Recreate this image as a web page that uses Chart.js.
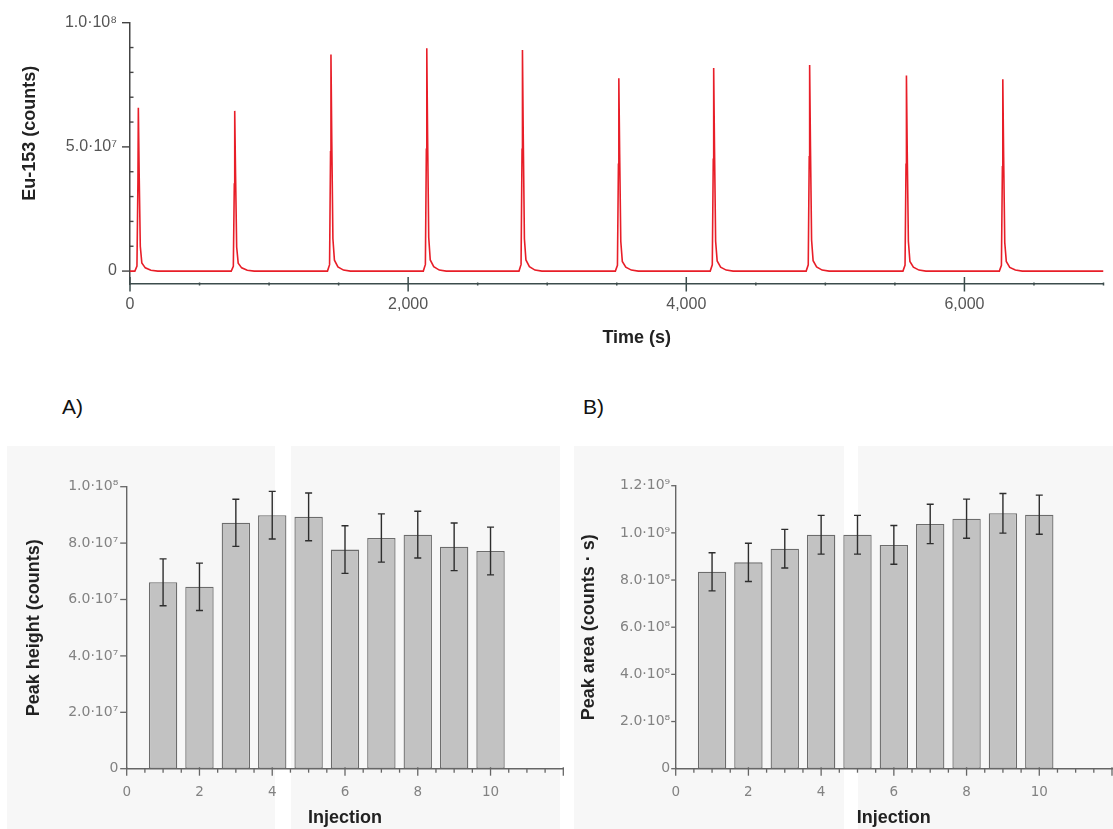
<!DOCTYPE html>
<html>
<head>
<meta charset="utf-8">
<script src="https://cdn.jsdelivr.net/npm/chart.js@4.4.1/dist/chart.umd.min.js"></script>
<style>
  html, body { margin: 0; padding: 0; background: #ffffff; }
  body { width: 1113px; height: 829px; position: relative; overflow: hidden; font-family: "Liberation Sans", Arial, sans-serif; }
  .bg { position: absolute; background: #f7f7f7; }
  .cv { position: absolute; }
  .lbl { position: absolute; font-size: 21px; color: #111; line-height: 1; }
</style>
</head>
<body>
<div class="bg" style="left:7px;top:446px;width:268px;height:383px;"></div>
<div class="bg" style="left:291px;top:446px;width:269px;height:383px;"></div>
<div class="bg" style="left:574px;top:446px;width:270px;height:383px;"></div>
<div class="bg" style="left:858px;top:446px;width:255px;height:383px;"></div>
<div class="lbl" style="left:62px;top:396px;">A)</div>
<div class="lbl" style="left:583px;top:396px;">B)</div>
<canvas id="top" class="cv" style="left:0px;top:0px;" width="1113" height="360"></canvas>
<canvas id="ca" class="cv" style="left:0px;top:440px;" width="565" height="389"></canvas>
<canvas id="cb" class="cv" style="left:560px;top:440px;" width="553" height="389"></canvas>
<script>
// ---------- DATA ----------
// Top: Eu-153 trace (time in s, counts)
const traceTime = [
  0,
  35, 50, 57, 60, 66, 74, 85, 110, 150, 200,
  728, 743, 750, 753, 759, 767, 778, 803, 843, 893,
  1420, 1435, 1442, 1445, 1451, 1459, 1470, 1495, 1535, 1585,
  2109, 2124, 2131, 2134, 2140, 2148, 2159, 2184, 2224, 2274,
  2797, 2812, 2819, 2822, 2828, 2836, 2847, 2872, 2912, 2962,
  3490, 3505, 3512, 3515, 3521, 3529, 3540, 3565, 3605, 3655,
  4172, 4187, 4194, 4197, 4203, 4211, 4222, 4247, 4287, 4337,
  4862, 4877, 4884, 4887, 4893, 4901, 4912, 4937, 4977, 5027,
  5558, 5573, 5580, 5583, 5589, 5597, 5608, 5633, 5673, 5723,
  6251, 6266, 6273, 6276, 6282, 6290, 6301, 6326, 6366, 6416,
  7000
];
const traceCounts = [
  0,
  0, 2.0e6, 3.6e7, 6.58e7, 3.9e7, 1.0e7, 3.3e6, 1.3e6, 3e5, 0,
  0, 1.9e6, 3.5e7, 6.45e7, 3.9e7, 9.7e6, 3.2e6, 1.3e6, 3e5, 0,
  0, 2.6e6, 4.8e7, 8.72e7, 5.2e7, 1.3e7, 4.4e6, 1.7e6, 4e5, 0,
  0, 2.7e6, 4.9e7, 8.97e7, 5.4e7, 1.35e7, 4.5e6, 1.8e6, 4e5, 0,
  0, 2.7e6, 4.9e7, 8.90e7, 5.3e7, 1.3e7, 4.5e6, 1.8e6, 4e5, 0,
  0, 2.3e6, 4.3e7, 7.76e7, 4.7e7, 1.2e7, 3.9e6, 1.6e6, 4e5, 0,
  0, 2.5e6, 4.5e7, 8.18e7, 4.9e7, 1.2e7, 4.1e6, 1.6e6, 4e5, 0,
  0, 2.5e6, 4.6e7, 8.30e7, 5.0e7, 1.25e7, 4.2e6, 1.7e6, 4e5, 0,
  0, 2.4e6, 4.3e7, 7.87e7, 4.7e7, 1.2e7, 3.9e6, 1.6e6, 4e5, 0,
  0, 2.3e6, 4.2e7, 7.72e7, 4.6e7, 1.15e7, 3.9e6, 1.5e6, 4e5, 0,
  0
];
const topXTickValues = [0, 2000, 4000, 6000];
const topXTickLabels = ["0", "2,000", "4,000", "6,000"];
const topXMinor = [500, 1000, 1500, 2500, 3000, 3500, 4500, 5000, 5500, 6500, 7000];
const topYTickValues = [0, 5e7, 1e8];
const topYTickLabels = ["0", "5.0\u00b710\u2077", "1.0\u00b710\u2078"];
const topYMinor = [1e7, 2e7, 3e7, 4e7, 6e7, 7e7, 8e7, 9e7];

// Bottom: injections
const injections = [1, 2, 3, 4, 5, 6, 7, 8, 9, 10];
const peakHeight = [6.61e7, 6.45e7, 8.72e7, 8.99e7, 8.93e7, 7.77e7, 8.18e7, 8.30e7, 7.87e7, 7.72e7];
const peakHeightErr = [0.83e7, 0.84e7, 0.835e7, 0.845e7, 0.845e7, 0.845e7, 0.855e7, 0.83e7, 0.845e7, 0.845e7];
const peakArea = [8.35e8, 8.75e8, 9.33e8, 9.92e8, 9.92e8, 9.49e8, 10.38e8, 10.60e8, 10.83e8, 10.77e8];
const peakAreaErr = [0.81e8, 0.81e8, 0.82e8, 0.82e8, 0.82e8, 0.82e8, 0.835e8, 0.83e8, 0.84e8, 0.83e8];
const injXTickValues = [0, 2, 4, 6, 8, 10, 12];
const injXTickLabels = ["0", "2", "4", "6", "8", "10", ""];
const injXMinor = [0.5, 1, 1.5, 2.5, 3, 3.5, 4.5, 5, 5.5, 6.5, 7, 7.5, 8.5, 9, 9.5, 10.5, 11, 11.5];
const heightYTickValues = [0, 2e7, 4e7, 6e7, 8e7, 1e8];
const heightYTickLabels = ["0", "2.0\u00b710\u2077", "4.0\u00b710\u2077", "6.0\u00b710\u2077", "8.0\u00b710\u2077", "1.0\u00b710\u2078"];
const areaYTickValues = [0, 2e8, 4e8, 6e8, 8e8, 1e9, 1.2e9];
const areaYTickLabels = ["0", "2.0\u00b710\u2078", "4.0\u00b710\u2078", "6.0\u00b710\u2078", "8.0\u00b710\u2078", "1.0\u00b710\u2079", "1.2\u00b710\u2079"];

// ---------- PLUGINS ----------
function makeTickPlugin(axes) {
  return {
    id: 'axisTicks',
    afterDraw(chart) {
      const ctx = chart.ctx;
      const ca = chart.chartArea;
      axes.forEach(a => {
        const sc = chart.scales[a.id];
        ctx.save();
        ctx.strokeStyle = a.color;
        ctx.lineWidth = a.width;
        const draw = (vals, inn, out) => vals.forEach(v => {
          const p = sc.getPixelForValue(v);
          ctx.beginPath();
          if (sc.isHorizontal()) { ctx.moveTo(p, ca.bottom - inn); ctx.lineTo(p, ca.bottom + out); }
          else { ctx.moveTo(ca.left + inn, p); ctx.lineTo(ca.left - out, p); }
          ctx.stroke();
        });
        draw(a.major, a.majorIn, a.majorOut);
        draw(a.minor, a.minorIn, a.minorOut);
        ctx.restore();
      });
    }
  };
}
function makeErrPlugin(values, errs) {
  return {
    id: 'errBars',
    afterDatasetsDraw(chart) {
      const ctx = chart.ctx;
      const ys = chart.scales.y;
      const meta = chart.getDatasetMeta(0);
      ctx.save();
      ctx.strokeStyle = '#2e2e2e';
      ctx.lineWidth = 1.4;
      meta.data.forEach((el, i) => {
        const x = el.x;
        const t = ys.getPixelForValue(values[i] + errs[i]);
        const b = ys.getPixelForValue(values[i] - errs[i]);
        ctx.beginPath();
        ctx.moveTo(x, t); ctx.lineTo(x, b);
        ctx.moveTo(x - 3.5, t); ctx.lineTo(x + 3.5, t);
        ctx.moveTo(x - 3.5, b); ctx.lineTo(x + 3.5, b);
        ctx.stroke();
      });
      ctx.restore();
    }
  };
}

Chart.defaults.font.family = '"Liberation Sans", Arial, sans-serif';
Chart.defaults.animation = false;
Chart.defaults.responsive = false;

const titleFont = { family: '"Liberation Sans", Arial, sans-serif', size: 18, weight: 'bold' };

// ---------- TOP CHART ----------
new Chart(document.getElementById('top'), {
  type: 'line',
  data: {
    datasets: [{
      data: traceTime.map((t, i) => ({ x: t, y: traceCounts[i] })),
      borderColor: 'rgb(232, 30, 40)',
      borderWidth: 1.6,
      pointRadius: 0,
      tension: 0,
      fill: false
    }]
  },
  options: {
    layout: { padding: { left: 0, top: 22.7, right: 9.5, bottom: 0 } },
    plugins: { legend: { display: false }, tooltip: { enabled: false } },
    scales: {
      x: {
        type: 'linear', min: 0, max: 7000,
        afterBuildTicks: s => { s.ticks = topXTickValues.map(v => ({ value: v })); },
        afterFit: s => { s.height = 76; },
        grid: { display: false, drawTicks: true, tickLength: 11.4 },
        border: { display: true, color: '#3c4c4c', width: 1.5 },
        ticks: {
          autoSkip: false, maxRotation: 0, padding: 0, color: '#555',
          font: { size: 16 },
          callback: v => { const k = topXTickValues.indexOf(v); return k < 0 ? '' : topXTickLabels[k]; }
        },
        title: { display: true, text: '        Time (s)', font: titleFont, color: '#222', padding: { top: 0, bottom: 11.2 } }
      },
      y: {
        type: 'linear', min: -5.2e6, max: 1e8,
        afterBuildTicks: s => { s.ticks = topYTickValues.map(v => ({ value: v })); },
        afterFit: s => { s.width = 130; },
        grid: { display: false, drawTicks: true, tickLength: 13 },
        border: { display: true, color: '#444', width: 1.5 },
        ticks: {
          autoSkip: false, padding: 0, color: '#555',
          font: { size: 16 },
          callback: v => { const k = topYTickValues.indexOf(v); return k < 0 ? '' : topYTickLabels[k]; }
        },
        title: { display: true, text: '        Eu-153 (counts)', font: titleFont, color: '#222', padding: { top: 19.2, bottom: 0 } }
      }
    }
  },
  plugins: [makeTickPlugin([
    { id: 'x', color: '#3c4c4c', width: 1.5, major: topXTickValues, majorIn: 7, majorOut: 7.5, minor: topXMinor, minorIn: 1.5, minorOut: 1.5 },
    { id: 'y', color: '#444', width: 1.4, major: topYTickValues, majorIn: 0, majorOut: 8, minor: topYMinor, minorIn: 3.5, minorOut: 0 }
  ])]
});

// ---------- BAR CHARTS ----------
function barChart(canvasId, values, errs, yVals, yLabels, yMax, yTitle, cfg) {
  return new Chart(document.getElementById(canvasId), {
    type: 'bar',
    data: {
      datasets: [{
        data: injections.map((x, i) => ({ x: x, y: values[i] })),
        backgroundColor: 'rgb(194, 194, 194)',
        borderColor: 'rgb(108, 108, 108)',
        borderWidth: 1.3,
        borderSkipped: false,
        categoryPercentage: 0.78,
        barPercentage: 1.0
      }]
    },
    options: {
      layout: { padding: { left: 0, top: cfg.top, right: cfg.right, bottom: 0 } },
      plugins: { legend: { display: false }, tooltip: { enabled: false } },
      scales: {
        x: {
          type: 'linear', min: 0, max: 12, offset: false,
          afterBuildTicks: s => { s.ticks = injXTickValues.map(v => ({ value: v })); },
          afterFit: s => { s.height = 60.3; },
          grid: { display: false, drawTicks: true, tickLength: 15.5 },
          border: { display: true, color: '#666', width: 1.4 },
          ticks: {
            autoSkip: false, maxRotation: 0, padding: 0, color: '#828282',
            font: { family: '"DejaVu Sans", sans-serif', size: 13.5 },
            callback: v => { const k = injXTickValues.indexOf(v); return k < 0 ? '' : injXTickLabels[k]; }
          },
          title: { display: true, text: 'Injection', font: titleFont, color: '#222', padding: { top: 0, bottom: 0 } }
        },
        y: {
          type: 'linear', min: 0, max: yMax,
          afterBuildTicks: s => { s.ticks = yVals.map(v => ({ value: v })); },
          afterFit: s => { s.width = cfg.yWidth; },
          grid: { display: false, drawTicks: true, tickLength: cfg.labelPad },
          border: { display: true, color: '#666', width: 1.4 },
          ticks: {
            autoSkip: false, padding: 0, color: '#828282',
            font: { family: '"DejaVu Sans", sans-serif', size: 14 },
            callback: v => { const k = yVals.indexOf(v); return k < 0 ? '' : yLabels[k]; }
          },
          title: { display: true, text: yTitle, font: titleFont, color: '#222', padding: { top: cfg.titlePad, bottom: 0 } }
        }
      }
    },
    plugins: [
      makeErrPlugin(values, errs),
      makeTickPlugin([
        { id: 'x', color: '#666', width: 1.3, major: injXTickValues, majorIn: 1.5, majorOut: 7, minor: injXMinor, minorIn: 0, minorOut: 4 },
        { id: 'y', color: '#666', width: 1.3, major: yVals, majorIn: 0, majorOut: cfg.tickLen, minor: [], minorIn: 0, minorOut: 0 }
      ])
    ]
  });
}

barChart('ca', peakHeight, peakHeightErr, heightYTickValues, heightYTickLabels, 1e8, 'Peak height (counts)',
  { top: 46.7, right: 1.7, yWidth: 126.7, labelPad: 8.4, titlePad: 23.2, tickLen: 6.5 });
barChart('cb', peakArea, peakAreaErr, areaYTickValues, areaYTickLabels, 1.2e9, 'Peak area (counts \u00b7 s)',
  { top: 45.7, right: 1, yWidth: 115.7, labelPad: 5.5, titlePad: 18.2, tickLen: 4.5 });
</script>
</body>
</html>
